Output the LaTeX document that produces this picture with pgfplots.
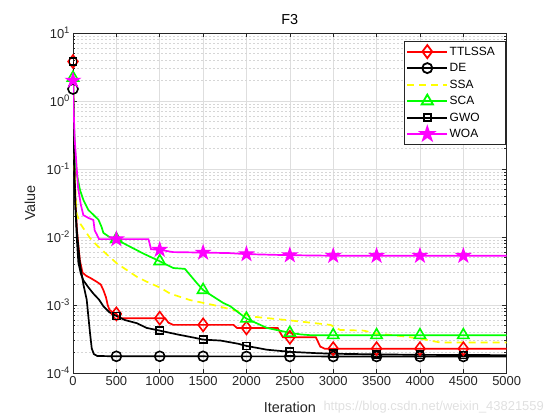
\documentclass[border=0pt]{standalone}
\usepackage{fontspec}
\setmainfont{Liberation Sans}
\usepackage{pgfplots}
\pgfplotsset{compat=1.18}
\definecolor{axgray}{gray}{0.15}
\definecolor{gridgray}{gray}{0.87}
\definecolor{mgridgray}{gray}{0.84}
\definecolor{cred}{RGB}{255,0,0}
\definecolor{cyel}{RGB}{255,255,0}
\definecolor{cgreen}{RGB}{0,255,0}
\definecolor{cmag}{RGB}{255,0,255}
\pgfdeclareplotmark{pentagram}{%
  \pgfpathmoveto{\pgfpointpolar{90}{\pgfplotmarksize}}%
  \pgfpathlineto{\pgfpointpolar{126}{0.382\pgfplotmarksize}}%
  \pgfpathlineto{\pgfpointpolar{162}{\pgfplotmarksize}}%
  \pgfpathlineto{\pgfpointpolar{198}{0.382\pgfplotmarksize}}%
  \pgfpathlineto{\pgfpointpolar{234}{\pgfplotmarksize}}%
  \pgfpathlineto{\pgfpointpolar{270}{0.382\pgfplotmarksize}}%
  \pgfpathlineto{\pgfpointpolar{306}{\pgfplotmarksize}}%
  \pgfpathlineto{\pgfpointpolar{342}{0.382\pgfplotmarksize}}%
  \pgfpathlineto{\pgfpointpolar{18}{\pgfplotmarksize}}%
  \pgfpathlineto{\pgfpointpolar{54}{0.382\pgfplotmarksize}}%
  \pgfpathclose
  \pgfusepathqfillstroke}
\newcommand{\tp}[1]{10\raisebox{5.5bp}{\fontsize{9.5}{10}\selectfont #1}}
\begin{document}
\begin{tikzpicture}
\useasboundingbox (-73bp,-47bp) rectangle (487bp,373bp);
\begin{axis}[
  at={(0,0)}, anchor=south west,
  scale only axis, width=433.7bp, height=340bp,
  ymode=log, xmin=0, xmax=5000, ymin=1e-4, ymax=10,
  xtick={0,500,...,5000},
  scaled x ticks=false,
  ytick={1e-4,1e-3,1e-2,1e-1,1,10},
  yticklabels={\tp{-4},\tp{-3},\tp{-2},\tp{-1},\tp{0},\tp{1}},
  xticklabel style={font=\fontsize{13}{15}\selectfont, text=axgray,
    /pgf/number format/assume math mode=true, /pgf/number format/1000 sep={}},
  yticklabel style={font=\fontsize{13}{15}\selectfont, text=axgray},
  tick align=inside,
  major tick length=4.5bp, minor tick length=2.5bp,
  every tick/.style={axgray, line width=0.5bp},
  axis line style={axgray, line width=0.6bp},
  xmajorgrids, ymajorgrids, yminorgrids,
  major grid style={gridgray, line width=0.5bp},
  minor grid style={mgridgray, line width=0.5bp, dash pattern=on 2bp off 2bp},
  title={F3},
  title style={font=\fontsize{14.5}{16}\selectfont, text=black, yshift=-1bp},
  xlabel={Iteration}, ylabel={Value},
  xlabel style={font=\fontsize{14.5}{16}\selectfont, text=axgray,
    at={(axis description cs:0.5,-0.1)}, anchor=center},
  ylabel style={font=\fontsize{14.5}{16}\selectfont, text=axgray,
    at={(axis description cs:-0.099,0.5)}, anchor=center},
  legend style={at={(0.997,0.976)}, anchor=north east, draw=axgray,
    inner xsep=2bp, inner ysep=2bp, row sep=0bp,
    font=\fontsize{12}{14}\selectfont,
    nodes={inner sep=1.5bp, minimum height=16.5bp, anchor=west}},
  legend cell align=left,
  legend image code/.code={\draw[line width=1.8bp, mark repeat=2, mark phase=2] plot coordinates {(0bp,0bp) (20bp,0bp) (40bp,0bp)};},
]
% ---------- TTLSSA ----------
\addplot[cred, line width=1.7bp, forget plot] coordinates {
 (0,3.8) (5,1.0) (10,0.3) (20,0.08) (30,0.03) (45,0.013) (60,0.008) (80,0.0045)
 (110,0.0030) (150,0.0027) (200,0.0025) (273,0.0022) (320,0.0020) (350,0.00166)
 (380,0.0013) (400,0.0010) (420,0.00085) (470,0.00076) (500,0.00074) (540,0.00064)
 (1062,0.00064) (1100,0.00055) (1155,0.00051) (1850,0.00051) (1890,0.00046)
 (2360,0.00046) (2390,0.00039) (2420,0.000335) (2800,0.000335) (2850,0.000245)
 (2900,0.000228) (5000,0.000228)};
\addplot[cred, line width=1.6bp, only marks, mark=diamond, mark size=6.5bp, forget plot] coordinates {
 (0,3.8) (500,0.00074) (1000,0.00064) (1500,0.00051) (2000,0.00046) (2500,0.000335)
 (3000,0.000228) (3500,0.000228) (4000,0.000228) (4500,0.000228)};
% ---------- DE ----------
\addplot[black, line width=1.7bp, forget plot] coordinates {
 (0,1.5) (5,0.5) (10,0.15) (20,0.05) (30,0.025) (45,0.012) (60,0.0075) (81,0.0040)
 (120,0.0020) (158,0.0012) (177,0.00068) (195,0.00040) (216,0.00023) (240,0.00019)
 (280,0.000178) (500,0.000176) (5000,0.000175)};
\addplot[black, line width=1.6bp, only marks, mark=o, mark size=5bp, forget plot] coordinates {
 (0,1.5) (500,0.000176) (1000,0.000176) (1500,0.000176) (2000,0.000175) (2500,0.000175)
 (3000,0.000175) (3500,0.000175) (4000,0.000175) (4500,0.000175)};
% ---------- SSA ----------
\addplot[cyel, line width=1.7bp, dash pattern=on 7bp off 5bp, forget plot] coordinates {
 (0,2.0) (5,0.6) (10,0.25) (20,0.08) (30,0.04) (43,0.022) (80,0.016) (120,0.0134)
 (200,0.0095) (273,0.0076) (400,0.0054) (505,0.0041) (600,0.0034) (736,0.0026)
 (850,0.0022) (1005,0.0018) (1120,0.00147) (1351,0.00118) (1617,0.0010) (1890,0.00082)
 (2044,0.00068) (2300,0.00063) (2468,0.00060) (2850,0.00053) (2968,0.00051) (3080,0.00043)
 (3350,0.00042) (3500,0.00038) (3780,0.00035) (4000,0.00032) (4240,0.00028) (5000,0.00028)};
% ---------- SCA ----------
\addplot[cgreen, line width=1.7bp, forget plot] coordinates {
 (0,2.2) (5,1.0) (10,0.5) (20,0.25) (30,0.13) (43,0.086) (81,0.049) (120,0.035)
 (177,0.025) (293,0.018) (330,0.014) (350,0.0115) (420,0.0100) (500,0.0093) (550,0.0085)
 (658,0.0072) (812,0.0057) (1000,0.0044) (1155,0.0035) (1290,0.0034) (1428,0.0021)
 (1500,0.00166) (1733,0.00107) (1813,0.00096) (2000,0.00063) (2237,0.00046) (2500,0.00039)
 (2620,0.00037) (2736,0.00036) (5000,0.00036)};
\addplot[cgreen, line width=1.6bp, only marks, mark=triangle, mark size=6.5bp, forget plot] coordinates {
 (0,2.2) (500,0.0093) (1000,0.0044) (1500,0.00166) (2000,0.00063) (2500,0.00039)
 (3000,0.00036) (3500,0.00036) (4000,0.00036) (4500,0.00036)};
% ---------- GWO ----------
\addplot[black, line width=1.7bp, forget plot] coordinates {
 (0,3.8) (5,0.8) (10,0.25) (20,0.06) (30,0.025) (45,0.009) (62,0.0042) (90,0.0029)
 (120,0.0023) (180,0.0018) (235,0.00147) (300,0.0012) (350,0.00096) (420,0.00078)
 (500,0.00069) (600,0.0006) (736,0.00054) (850,0.00046) (1000,0.00042) (1200,0.00037)
 (1400,0.00033) (1500,0.00031) (1700,0.00030) (1900,0.00027) (2000,0.00025) (2237,0.00022)
 (2500,0.000205) (2800,0.000196) (3000,0.000192) (3500,0.000188) (4000,0.000185) (5000,0.000183)};
\addplot[black, line width=1.6bp, only marks, mark=square, mark size=3.6bp, forget plot] coordinates {
 (0,3.8) (500,0.00069) (1000,0.00042) (1500,0.00031) (2000,0.00025) (2500,0.000205)
 (3000,0.000192) (3500,0.000188) (4000,0.000185) (4500,0.000184)};
% ---------- WOA ----------
\addplot[cmag, line width=1.7bp, forget plot] coordinates {
 (0,2.0) (5,1.0) (10,0.6) (20,0.27) (58,0.054) (90,0.030) (119,0.021) (180,0.019)
 (235,0.0178) (250,0.0125) (273,0.011) (300,0.0093) (870,0.0093) (900,0.0066)
 (1000,0.0065) (1150,0.0060) (1500,0.0059) (1800,0.0058) (2000,0.0056) (2500,0.0054)
 (3000,0.0053) (5000,0.0053)};
\addplot[cmag, line width=1.2bp, only marks, mark=pentagram, mark size=7bp, fill=cmag, forget plot] coordinates {
 (0,2.0) (500,0.0093) (1000,0.0065) (1500,0.0059) (2000,0.0056) (2500,0.0054)
 (3000,0.0053) (3500,0.0053) (4000,0.0053) (4500,0.0053)};
% ---------- legend ----------
\addlegendimage{cred, mark=diamond, mark size=6.5bp}
\addlegendentry{\makebox[52bp][l]{TTLSSA}}
\addlegendimage{black, mark=o, mark size=5bp}
\addlegendentry{DE}
\addlegendimage{cyel, dash pattern=on 7bp off 5bp}
\addlegendentry{SSA}
\addlegendimage{cgreen, mark=triangle, mark size=6.5bp}
\addlegendentry{SCA}
\addlegendimage{black, mark=square, mark size=3.6bp}
\addlegendentry{GWO}
\addlegendimage{cmag, mark=pentagram, mark size=7bp, fill=cmag}
\addlegendentry{WOA}
\end{axis}
\node[text=black!12, font=\fontsize{13}{15}\selectfont, anchor=west] at (247bp,-34bp) {https://blog.csdn.net/weixin\_43821559};
\end{tikzpicture}
\end{document}
